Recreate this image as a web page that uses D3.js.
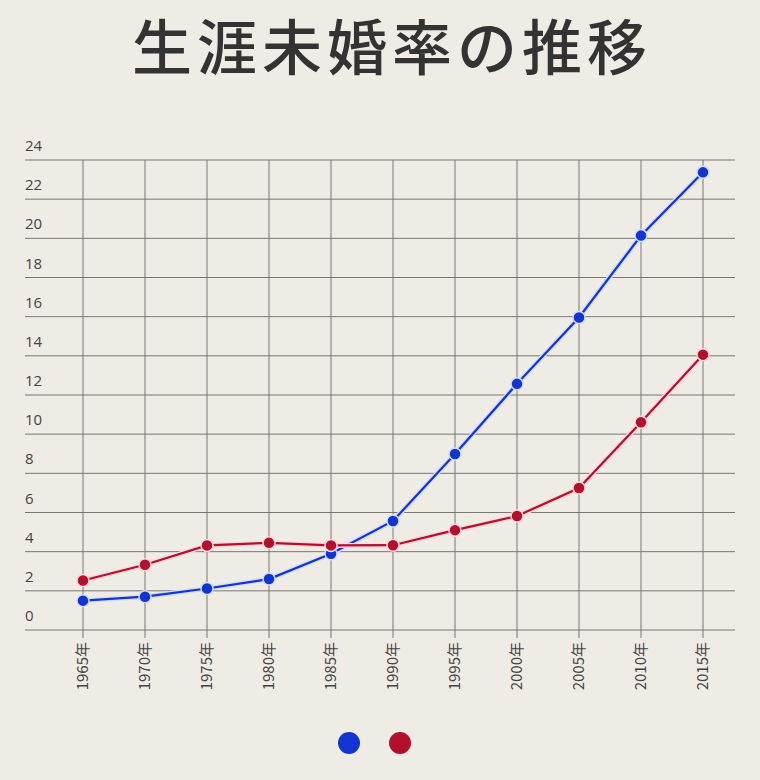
<!DOCTYPE html>
<html>
<head>
<meta charset="utf-8">
<script src="https://cdn.jsdelivr.net/npm/d3@7"></script>
<style>
  body { margin: 0; background: #eeece4; }
  svg { display: block; }
</style>
</head>
<body>
<div id="chart"></div>
<script>
const years = ["1965年", "1970年", "1975年", "1980年", "1985年", "1990年", "1995年", "2000年", "2005年", "2010年", "2015年"]
const male = [1.50, 1.70, 2.12, 2.60, 3.89, 5.57, 8.99, 12.57, 15.96, 20.14, 23.37]
const female = [2.53, 3.33, 4.32, 4.45, 4.32, 4.33, 5.10, 5.82, 7.25, 10.61, 14.06]
const yTicks = [0, 2, 4, 6, 8, 10, 12, 14, 16, 18, 20, 22, 24]

const W = 760, H = 780
const svg = d3.select("#chart").append("svg").attr("width", W).attr("height", H)
svg.append("rect").attr("width", W).attr("height", H).attr("fill", "#eeece4")

svg.append("text")
    .attr("x", 392).attr("y", 70)
    .attr("text-anchor", "middle")
    .attr("font-family", "Noto Sans CJK JP")
    .attr("font-weight", 500)
    .attr("font-size", 60)
    .attr("letter-spacing", 5)
    .attr("fill", "#333")
    .text("生涯未婚率の推移")

const x = d3.scalePoint().domain(years).range([83, 703])
const y = d3.scaleLinear().domain([0, 24]).range([630, 160])

const grid = svg.append("g")
grid.selectAll("line.h").data(yTicks).enter().append("line")
    .attr("x1", 25).attr("x2", 735)
    .attr("y1", (d) => y(d)).attr("y2", (d) => y(d))
    .attr("stroke", "#777").attr("stroke-width", 1)
grid.selectAll("line.v").data(years).enter().append("line")
    .attr("x1", (d) => x(d)).attr("x2", (d) => x(d))
    .attr("y1", y(24)).attr("y2", y(0) + 8)
    .attr("stroke", "#777").attr("stroke-width", 1)

svg.append("g").selectAll("text").data(yTicks).enter().append("text")
    .attr("x", 25).attr("y", (d) => y(d) - 9)
    .attr("font-family", "Open Sans")
    .attr("font-size", 15)
    .attr("fill", "#444")
    .text((d) => d)

svg.append("g").selectAll("text").data(years).enter().append("text")
    .attr("transform", (d) => "translate(" + (x(d) + 5) + "," + 642 + ") rotate(-90)")
    .attr("text-anchor", "end")
    .attr("font-family", "Noto Sans CJK JP")
    .attr("font-size", 15)
    .attr("fill", "#444")
    .text((d) => d)

const series = [
    { values: male, color: "#1234d2", halo: "#d2dcff" },
    { values: female, color: "#b3102c", halo: "#ffd6dc" },
]
const line = d3.line().x((d, i) => x(years[i])).y((d) => y(d))

series.forEach((s) => {
    svg.append("path").datum(s.values).attr("d", line)
        .attr("fill", "none").attr("stroke", s.halo).attr("stroke-width", 5)
    svg.append("path").datum(s.values).attr("d", line)
        .attr("fill", "none").attr("stroke", s.color).attr("stroke-width", 2.2)
    svg.append("g").selectAll("circle").data(s.values).enter().append("circle")
        .attr("cx", (d, i) => x(years[i])).attr("cy", (d) => y(d))
        .attr("r", 6).attr("fill", s.color)
        .attr("stroke", s.halo).attr("stroke-width", 1.5)
})

svg.append("g").selectAll("circle").data(series).enter().append("circle")
    .attr("cx", (d, i) => 349 + i * 51).attr("cy", 743)
    .attr("r", 11).attr("fill", (d) => d.color)
</script>
</body>
</html>
